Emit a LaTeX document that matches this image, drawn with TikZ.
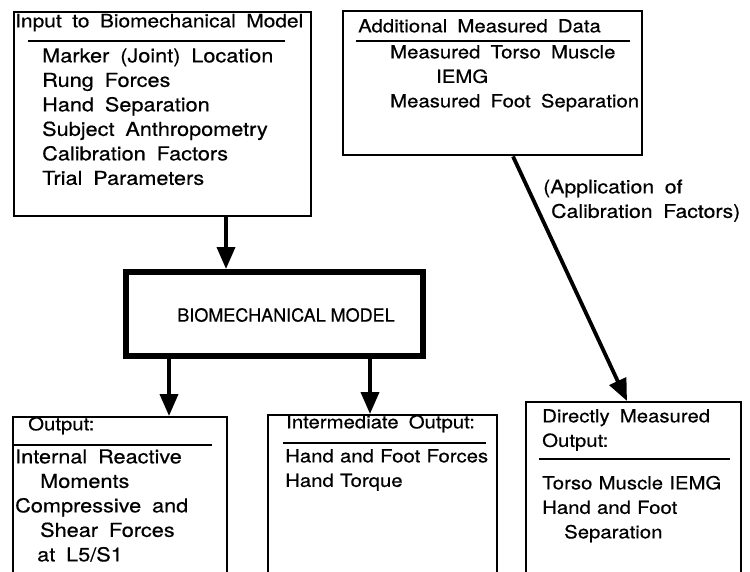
\documentclass[tikz,border=0pt]{standalone}
\usepackage{fontspec}
\setmainfont{TeX Gyre Heros}[FakeStretch=1.13,WordSpace=1.8,FakeBold=0.5]
\newfontfamily\plainfont{TeX Gyre Heros}[FakeBold=0.5]
\newfontfamily\tightfont{TeX Gyre Heros}[FakeStretch=1.13,WordSpace=1.1,FakeBold=0.5]
\usetikzlibrary{arrows.meta,positioning}

\begin{document}
\begin{tikzpicture}[x=1pt,y=-1pt,
  box/.style={draw,line width=2.4pt,anchor=north west,inner sep=0pt},
  txt/.style={anchor=north west,inner sep=0pt,align=left,font=\fontsize{18}{24.5}\selectfont},
  bigtxt/.style={txt,font=\fontsize{19.2}{24.5}\selectfont},
  arr/.style={line width=3.8pt,-{Triangle[length=22pt,width=18pt]}},
  rule/.style={line width=1.8pt},
  tight/.style={txt,font=\tightfont\fontsize{18}{24.5}\selectfont}]
  \useasboundingbox (0,0) rectangle (750,571);
  \clip (0,0) rectangle (750,571);
  % boxes
  \node[box,minimum width=297pt,minimum height=204pt] (input) at (13,11) {};
  \node[box,minimum width=299pt,minimum height=144pt] (addl) at (342,10) {};
  \node[box,line width=5.5pt,minimum width=297pt,minimum height=84pt] (model) at (123,269) {};
  \node[box,minimum width=214pt,minimum height=300pt] (out) at (12,416) {};
  \node[box,minimum width=229pt,minimum height=300pt] (inter) at (267,414) {};
  \node[box,minimum width=215pt,minimum height=300pt] (direct) at (525,401) {};
  % input
  \node[txt,font=\fontsize{18.5}{24.5}\selectfont] (inhd) at (15,10) {\strut Input to Biomechanical Model};
  \draw[rule] (28,41) -- (285,41);
  \node[bigtxt] (inlist) at (42,45) {\strut Marker (Joint) Location\\Rung Forces\\Hand Separation\\
    Subject Anthropometry\\Calibration Factors\\Trial Parameters};
  % additional data
  \node[txt] (adhd) at (358,15) {\strut Additional Measured Data};
  \draw[rule] (356,41) -- (630,41);
  \node[txt] (adlist) at (390,41) {\strut Measured Torso Muscle\\\hspace*{46pt}IEMG\\Measured Foot Separation};
  % model
  \node[font=\plainfont\fontsize{18}{21}\selectfont] (mdtxt) at (286,315) {BIOMECHANICAL MODEL};
  % outputs
  \node[txt] (outhd) at (28,413) {\strut Output:};
  \draw[rule] (12,445) -- (212,445);
  \node[bigtxt] (outlist) at (15,446) {\strut Internal Reactive\\\hspace*{25pt}Moments\\Compressive and\\
    \hspace*{25pt}Shear Forces\\\hspace*{22pt}at L5/S1};
  \node[txt] (inthd) at (286,411) {\strut Intermediate Output:};
  \draw[rule] (283,443) -- (486,443);
  \node[tight] (intlist) at (285,445) {\strut Hand and Foot Forces\\Hand Torque};
  \node[txt] (dirhd) at (542,405) {\strut Directly Measured\\Output:};
  \draw[rule] (539,459) -- (730,459);
  \node[tight] (dirlist) at (542,472) {\strut Torso Muscle IEMG\\Hand and Foot\\\hspace*{22pt}Separation};
  % arrows
  \coordinate (c1) at (226,0);
  \coordinate (c2) at (169,0);
  \coordinate (c3) at (370,0);
  \coordinate (c4) at (513,0);
  \coordinate (c5) at (627,0);
  \draw[arr] (input.south -| c1) -- (model.north -| c1);
  \draw[arr] (model.south -| c2) -- (out.north -| c2);
  \draw[arr] (model.south -| c3) -- (inter.north -| c3);
  \draw[arr] (addl.south -| c4) -- (direct.north -| c5);
  \node[txt,font=\fontsize{18.8}{24.5}\selectfont] (calib) at (543,176) {\strut(Application of\\\hspace*{8pt}Calibration Factors)};
\end{tikzpicture}
\end{document}
